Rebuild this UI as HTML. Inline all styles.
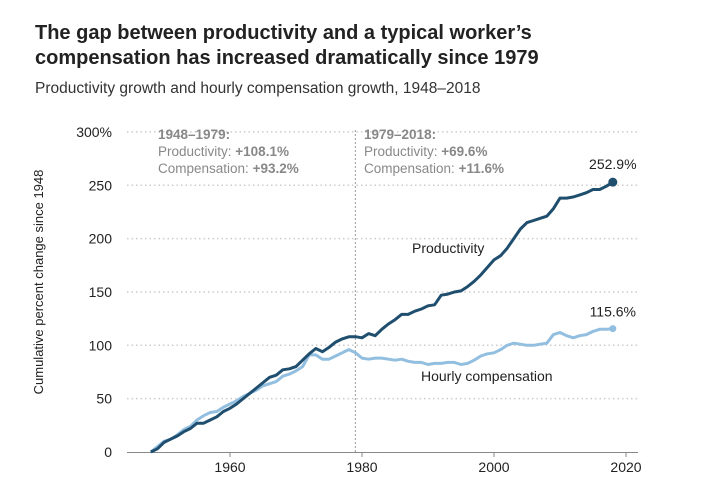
<!DOCTYPE html>
<html><head><meta charset="utf-8"><style>
body{margin:0;background:#fff;font-family:"Liberation Sans",sans-serif;}
#wrap{position:relative;width:706px;height:486px;overflow:hidden;}
.t{position:absolute;left:35px;top:21px;font-size:20px;font-weight:bold;line-height:25px;color:#222;}
.s{position:absolute;left:35px;top:80px;font-size:15.5px;color:#333;}
</style></head><body><div id="wrap">
<div class="t">The gap between productivity and a typical worker’s<br>compensation has increased dramatically since 1979</div>
<div class="s">Productivity growth and hourly compensation growth, 1948–2018</div>
<svg id="c" width="706" height="486" style="position:absolute;left:0;top:0"></svg>
</div>
<script>
const years=[];for(let y=1948;y<=2018;y++)years.push(y);
const productivity=[0,3,9,12,15,19,22,27,27,30,33,38,41,45,50,55,60,65,70,72,77,78,80,86,92,97,94,98,103,106,108,108.1,107,111,109,115,120,124,129,129,132,134,137,138,147,148,150,151,155,160,166,173,180,184,191,200,209,215,217,219,221,228,238,238,239,241,243,246,246,249,252.9];
const compensation=[0,5,10,12,16,21,24,30,34,37,38,42,45,48,52,55,58,62,64,66,71,73,76,80,91,91,87,87,90,93,96,93.2,88,87,88,88,87,86,87,85,84,84,82,83,83,84,84,82,83,86,90,92,93,96,100,102,101,100,100,101,102,110,112,109,107,109,110,113,115,115,115.6];
const yTicks=[0,50,100,150,200,250,300];
const yTickLabels=["0","50","100","150","200","250","300%"];
const xTicks=[1960,1980,2000,2020];
const NS="http://www.w3.org/2000/svg";
const svg=document.getElementById('c');
const X=y=>230+(y-1960)*6.6;
const Y=v=>452-v*1.067;
function mk(t,a,txt){const e=document.createElementNS(NS,t);for(const k in a)e.setAttribute(k,a[k]);if(txt!==undefined)e.textContent=txt;svg.appendChild(e);return e;}
yTicks.forEach((v,i)=>{
 if(v>0){const g=mk('line',{x1:127,x2:638,y1:Y(v),y2:Y(v),stroke:'#ccc','stroke-width':1.5,'stroke-dasharray':'1.5,3'});
 
 }
 const t=mk('text',{x:112,y:Y(v)+5,'text-anchor':'end','font-size':14,fill:'#222'},yTickLabels[i]);
 
 
});
const ax=mk('line',{x1:127,x2:638,y1:452.5,y2:452.5,stroke:'#888','stroke-width':1});


xTicks.forEach(v=>{
 const l=mk('line',{x1:X(v),x2:X(v),y1:452,y2:457,stroke:'#888'});
 
 
 const t=mk('text',{x:X(v),y:472,'text-anchor':'middle','font-size':14,fill:'#222'},v);
 
 
});
const vl=mk('line',{x1:X(1979),x2:X(1979),y1:130,y2:452,stroke:'#aaa','stroke-width':1.2,'stroke-dasharray':'2,2'});


const yl=mk('text',{transform:'translate(43,282) rotate(-90)','text-anchor':'middle','font-size':13,fill:'#222'},'Cumulative percent change since 1948');


function line(data,col,name){
 const p=mk('path',{d:data.map((v,i)=>(i?'L':'M')+X(years[i]).toFixed(1)+','+Y(v).toFixed(1)).join(''),fill:'none',stroke:col,'stroke-width':3,'stroke-linejoin':'round'});
 
 
}
line(compensation,'#92bfe0','compensation-line');
line(productivity,'#1f4e6e','productivity-line');
const d1=mk('circle',{cx:X(2018),cy:Y(productivity[70]),r:4.5,fill:'#1f4e6e'});


const d2=mk('circle',{cx:X(2018),cy:Y(compensation[70]),r:3.5,fill:'#92bfe0'});


function lab(x,y,txt,name,extra){const t=mk('text',Object.assign({x:x,y:y,'font-size':14,fill:'#222'},extra||{}),txt);
 
 return t;}
lab(X(2018),Y(productivity[70])-13,productivity[70].toFixed(1)+'%','productivity-end-label',{'text-anchor':'middle'});
lab(X(2018),Y(compensation[70])-12,compensation[70].toFixed(1)+'%','compensation-end-label',{'text-anchor':'middle'});
lab(412,253,'Productivity','productivity-label');
lab(421,381,'Hourly compensation','compensation-label');
function ann(x,t1,p,c,name){
 const g=document.createElementNS(NS,'text');g.setAttribute('font-size',13.5);g.setAttribute('fill','#888');
 
 
 g.innerHTML=`<tspan x="${x}" y="139" font-weight="bold">${t1}</tspan><tspan x="${x}" y="156">Productivity: <tspan font-weight="bold">${p}</tspan></tspan><tspan x="${x}" y="173">Compensation: <tspan font-weight="bold">${c}</tspan></tspan>`;
 svg.appendChild(g);
}
ann(158,'1948–1979:','+108.1%','+93.2%','annotation-1948-1979');
ann(364,'1979–2018:','+69.6%','+11.6%','annotation-1979-2018');
</script></body></html>
